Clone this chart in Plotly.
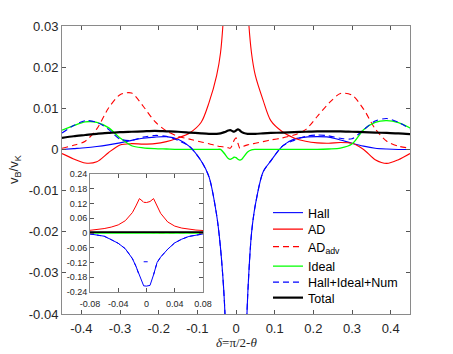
import plotly.graph_objects as go

# main panel: delta = pi/2 - theta
delta = [-0.45, -0.42, -0.39, -0.36, -0.33, -0.30, -0.27, -0.24, -0.21, -0.18,
         -0.15, -0.12, -0.09, -0.07, -0.05, -0.04, -0.03, -0.02, -0.015, -0.01,
         -0.005, 0.0, 0.005, 0.01, 0.015, 0.02, 0.03, 0.04, 0.05, 0.07,
         0.09, 0.12, 0.15, 0.18, 0.21, 0.24, 0.27, 0.30, 0.33, 0.36,
         0.39, 0.42, 0.45]

hall = [0.0000, 0.0002, 0.0004, 0.0007, 0.0011, 0.0016, 0.0022, 0.0027, 0.0030, 0.0031,
        0.0025, 0.0007, -0.0028, -0.0066, -0.0160, -0.0240, -0.0370, -0.065, -0.085, -0.11,
        -0.135, -0.15, -0.135, -0.11, -0.085, -0.063, -0.036, -0.0205, -0.0135, -0.0055,
        -0.0028, 0.0008, 0.0025, 0.0030, 0.0031, 0.0030, 0.0023, 0.0015, 0.0008, 0.0003,
        0.0001, 0.0000, 0.0000]

ad = [-0.0010, -0.0023, -0.0033, -0.0030, -0.0008, 0.0011, 0.0014, 0.0013, 0.0014, 0.0019,
      0.0028, 0.0040, 0.0066, 0.0113, 0.0180, 0.0235, 0.036, 0.06, 0.08, 0.10,
      0.12, 0.12, 0.12, 0.10, 0.08, 0.06, 0.035, 0.0235, 0.0180, 0.0120,
      0.0070, 0.0043, 0.0028, 0.0020, 0.0016, 0.0015, 0.0017, 0.0015, 0.0000, -0.0025,
      -0.0034, -0.0025, -0.0010]

ad_adv = [0.0003, 0.0010, 0.0020, 0.0050, 0.0100, 0.0133, 0.0137, 0.0105, 0.0068, 0.0045,
          0.0032, 0.0025, 0.0018, 0.0014, 0.0009, 0.0007, 0.0006, 0.0004, 0.0003, 0.0010,
          0.0022, 0.0028, 0.0015, 0.0003, 0.0005, 0.0008, 0.0011, 0.0013, 0.0015, 0.0019,
          0.0023, 0.0028, 0.0035, 0.0048, 0.0080, 0.0112, 0.0136, 0.0132, 0.0098, 0.0050,
          0.0020, 0.0008, 0.0003]

ideal = [0.0047, 0.0058, 0.0067, 0.0066, 0.0053, 0.0028, 0.0009, 0.0004, 0.0002, 0.0001,
         0.0000, 0.0000, 0.0000, 0.0000, 0.0000, 0.0000, -0.0010, -0.0022, -0.0024, -0.0022,
         -0.0019, -0.0020, -0.0024, -0.0026, -0.0024, -0.0018, -0.0006, -0.0001, 0.0000, 0.0000,
         0.0000, 0.0000, 0.0000, 0.0000, 0.0000, 0.0001, 0.0003, 0.0013, 0.0048, 0.0066,
         0.0070, 0.0065, 0.0052]

hall_ideal_num = [0.0040, 0.0058, 0.0070, 0.0066, 0.0049, 0.0025, 0.0022, 0.0030, 0.0034, 0.0032,
                  0.0022, 0.0007, -0.0028, -0.0066, -0.0160, -0.0240, -0.0370, -0.065, -0.085, -0.11,
                  -0.115, -0.115, -0.115, -0.11, -0.085, -0.063, -0.036, -0.0205, -0.0135, -0.0055,
                  -0.0028, 0.0008, 0.0022, 0.0032, 0.0035, 0.0033, 0.0027, 0.0026, 0.0048, 0.0069,
                  0.0075, 0.0066, 0.0050]

total = [0.0028, 0.0032, 0.0035, 0.0038, 0.0040, 0.0042, 0.0043, 0.0044, 0.0045, 0.0044,
         0.0043, 0.0041, 0.0039, 0.0038, 0.0038, 0.0039, 0.0042, 0.0046, 0.0047, 0.0045,
         0.0043, 0.0046, 0.0049, 0.0046, 0.0042, 0.0040, 0.0038, 0.0038, 0.0038, 0.0039,
         0.0040, 0.0041, 0.0042, 0.0043, 0.0044, 0.0044, 0.0044, 0.0043, 0.0042, 0.0041,
         0.0040, 0.0039, 0.0037]

# inset panel (zoom on the mid-plane)
inset_delta = [-0.08, -0.07, -0.06, -0.05, -0.04, -0.03, -0.02, -0.015, -0.01, -0.005, -0.004, 0.0,
               0.004, 0.005, 0.01, 0.015, 0.02, 0.03, 0.04, 0.05, 0.06, 0.07, 0.08]
inset_hall = [-0.004, -0.008, -0.013, -0.027, -0.042, -0.064, -0.104, -0.135, -0.175, -0.212, -0.215, -0.216,
              -0.215, -0.213, -0.17, -0.12, -0.098, -0.066, -0.04, -0.025, -0.014, -0.008, -0.004]
inset_ad = [0.011, 0.014, 0.018, 0.024, 0.033, 0.05, 0.083, 0.11, 0.14, 0.128, 0.125, 0.124,
            0.125, 0.128, 0.14, 0.11, 0.08, 0.045, 0.028, 0.02, 0.015, 0.012, 0.010]
inset_hall_ideal_num = [-0.004, -0.008, -0.013, -0.027, -0.042, -0.064, -0.104, -0.135, -0.175, None, -0.117, -0.117,
                        -0.117, None, -0.17, -0.12, -0.098, -0.066, -0.04, -0.025, -0.014, -0.008, -0.004]

x_ticks = [-0.4, -0.3, -0.2, -0.1, 0, 0.1, 0.2, 0.3, 0.4]
x_labels = ['-0.4', '-0.3', '-0.2', '-0.1', '0', '0.1', '0.2', '0.3', '0.4']
y_ticks = [0.03, 0.02, 0.01, 0, -0.01, -0.02, -0.03, -0.04]
y_labels = ['0.03', '0.02', '0.01', '0', '-0.01', '-0.02', '-0.03', '-0.04']
inset_x_ticks = [-0.08, -0.04, 0, 0.04, 0.08]
inset_x_labels = ['-0.08', '-0.04', '0', '0.04', '0.08']
inset_y_ticks = [0.24, 0.18, 0.12, 0.06, 0, -0.06, -0.12, -0.18, -0.24]
inset_y_labels = ['0.24', '0.18', '0.12', '0.06', '0', '-0.06', '-0.12', '-0.18', '-0.24']

BLUE, RED, GREEN, BLACK = '#0000ff', '#ff0000', '#00ff00', '#000000'
DASH = '6px,4px'

W, H = 453, 354
def px(x0, x1):
    return [x0 / W, x1 / W]
def py(top, bottom):
    return [1 - bottom / H, 1 - top / H]

fig = go.Figure()

# one legend per row so the row spacing can follow the original
main = [
    ('Hall', hall, BLUE, 'solid', 1.1, 213),
    ('AD', ad, RED, 'solid', 1.1, 229.5),
    ('AD<sub>adv</sub>', ad_adv, RED, DASH, 1.1, 247),
    ('Ideal', ideal, GREEN, 'solid', 1.3, 266.5),
    ('Hall+Ideal+Num', hall_ideal_num, BLUE, DASH, 1.1, 282.5),
    ('Total', total, BLACK, 'solid', 2.2, 298),
]
legends = {}
for i, (name, ys, col, dash, w, row) in enumerate(main):
    key = 'legend' if i == 0 else 'legend%d' % (i + 1)
    fig.add_trace(go.Scatter(x=delta, y=ys, name=name, mode='lines', legend=key,
                             line=dict(color=col, dash=dash, width=w, shape='spline', smoothing=0.8),
                             xaxis='x', yaxis='y'))
    legends[key] = dict(x=268 / W, y=1 - row / H, xanchor='left', yanchor='middle',
                        bgcolor='rgba(255,255,255,0)', font=dict(size=12.5, color='#000'),
                        itemwidth=30)

inset = [
    (delta, ad_adv, RED, DASH, 1.0),
    (delta, ideal, GREEN, 'solid', 1.6),
    (inset_delta, inset_hall, BLUE, 'solid', 1.0),
    (inset_delta, inset_hall_ideal_num, BLUE, '4px,3px', 1.0),
    (inset_delta, inset_ad, RED, 'solid', 1.0),
    (delta, total, BLACK, 'solid', 1.8),
]
for xs, ys, col, dash, w in inset:
    fig.add_trace(go.Scatter(x=xs, y=ys, mode='lines', showlegend=False,
                             line=dict(color=col, dash=dash, width=w),
                             xaxis='x2', yaxis='y2'))

axis_style = dict(showline=True, linecolor='#8a8a8a', linewidth=1, mirror='ticks',
                  ticks='inside', ticklen=4, tickcolor='#555', showgrid=False,
                  zeroline=False, automargin=False)

fig.update_layout(
    width=W, height=H, autosize=False,
    margin=dict(l=0, r=0, t=0, b=0),
    paper_bgcolor='white', plot_bgcolor='white',
    font=dict(family='Liberation Sans, Arial, sans-serif', color='#262626'),
    xaxis=dict(domain=px(62, 410), range=[-0.45, 0.45], anchor='y', ticklabelstandoff=2,
               tickvals=x_ticks, ticktext=x_labels, tickfont=dict(size=13), **axis_style),
    yaxis=dict(domain=py(26, 314), range=[-0.04, 0.03], anchor='x',
               tickvals=y_ticks, ticktext=y_labels, tickfont=dict(size=13), **axis_style),
    xaxis2=dict(domain=px(90, 203), range=[-0.08, 0.08], anchor='y2', ticklabelstandoff=3,
                tickvals=inset_x_ticks, ticktext=inset_x_labels, tickfont=dict(size=9), **axis_style),
    yaxis2=dict(domain=py(174, 292), range=[-0.24, 0.24], anchor='x2',
                tickvals=inset_y_ticks, ticktext=inset_y_labels, tickfont=dict(size=9), **axis_style),
    annotations=[
        dict(text='v<sub>B</sub>/v<sub>K</sub>', x=14 / W, y=1 - 170 / H, xref='paper', yref='paper',
             xanchor='center', yanchor='middle',
             textangle=-90, showarrow=False, font=dict(size=13, color='#262626')),
        dict(text='<i>δ</i>=π/2-<i>θ</i>', x=236 / W, y=1 - 342 / H, xref='paper', yref='paper',
             xanchor='center', yanchor='middle',
             showarrow=False, font=dict(size=13, family='Liberation Serif, serif', color='#262626')),
    ],
    **legends,
)

# the page body has a default 8px margin; drop it so the figure sits at the window corner
fig.write_html('out.html', config={'displayModeBar': False},
               post_script="document.body.style.margin='0';")
